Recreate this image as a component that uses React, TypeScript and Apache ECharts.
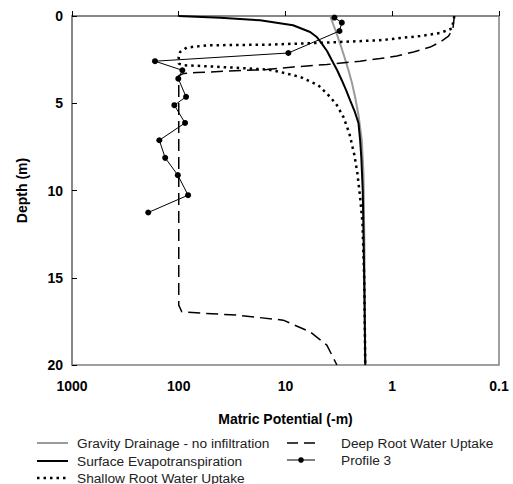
import React, { useEffect, useRef } from "react";
import * as echarts from "echarts";

// Matric potential (-m) and depth (m)
const gravityPotential = [3.82, 3.43, 3.08, 2.82, 2.57, 2.38, 2.23, 2.07, 1.93, 1.86, 1.82, 1.79];
const gravityDepth = [0, 0.76, 1.58, 2.31, 3.11, 3.85, 4.64, 5.69, 7.12, 9.0, 13.4, 20];

const surfacePotential = [101, 41.0, 17.3, 8.5, 5.88, 5.06, 4.57, 4.07, 3.68, 3.28, 2.97, 2.7, 2.48, 2.25, 2.07, 2.0, 1.95, 1.89, 1.86, 1.82, 1.79];
const surfaceDepth = [0, 0.1, 0.25, 0.53, 0.92, 1.22, 1.58, 2.02, 2.54, 3.11, 3.68, 4.26, 4.83, 5.46, 6.15, 7.12, 8.08, 9.98, 12.27, 16.3, 20];

const shallowPotential = [0.262, 0.276, 0.356, 0.548, 0.843, 1.3, 4.1, 13.9, 54.7, 84.1, 97.2, 100, 100, 90.5, 54.7, 26.6, 14.5, 11.2, 7.3, 4.92, 3.82, 3.3, 2.87, 2.52, 2.26, 2.12, 2.0, 1.9, 1.83, 1.79];
const shallowDepth = [0, 0.72, 0.97, 1.15, 1.26, 1.39, 1.52, 1.64, 1.68, 1.81, 2.06, 2.35, 2.73, 2.82, 2.88, 2.98, 3.07, 3.21, 3.49, 3.97, 4.64, 5.11, 5.78, 6.74, 7.98, 9.03, 10.37, 11.89, 15.1, 20];

const deepPotential = [0.262, 0.27, 0.297, 0.356, 0.441, 0.633, 0.905, 1.3, 2.0, 4.1, 8.4, 15.0, 38.2, 67.8, 90.5, 100, 100, 93.7, 58.8, 28.6, 10.5, 5.88, 4.1, 3.3];
const deepDepth = [0, 0.72, 1.16, 1.49, 1.78, 2.06, 2.29, 2.44, 2.59, 2.78, 2.92, 3.07, 3.17, 3.24, 3.3, 3.42, 16.57, 16.95, 17.04, 17.14, 17.43, 18.1, 18.86, 20];

const profilePotential = [3.48, 2.97, 3.12, 9.4, 167, 92.5, 101, 85.4, 110, 87.3, 152, 134, 102, 81.8, 193];
const profileDepth = [0.09, 0.38, 0.86, 2.12, 2.59, 3.11, 3.59, 4.63, 5.11, 6.13, 7.12, 8.13, 9.12, 10.27, 11.26];

const xTickValues = [1000, 100, 10, 1, 0.1];
const xTickLabels = ["1000", "100", "10", "1", "0.1"];

const seriesNames = [
  "Gravity Drainage - no infiltration",
  "Surface Evapotranspiration",
  "Shallow Root Water Uptake",
  "Deep Root Water Uptake",
  "Profile 3",
];

const zip = (xs: number[], ys: number[]) => xs.map((x, i) => [x, ys[i]]);

const FONT = "Arial, 'Liberation Sans', sans-serif";
const GRAY = "#9a9a9a";
const DOTTED = [2.5, 4];
const DASHED = [12, 6];

export default function App() {
  const ref = useRef<HTMLDivElement>(null);
  useEffect(() => {
    if (!ref.current) return;
    const chart = echarts.init(ref.current, null, { renderer: "svg" });
    const labelFor = (v: number) => {
      for (let i = 0; i < xTickValues.length; i++) {
        if (Math.abs(Math.log10(v) - Math.log10(xTickValues[i])) < 1e-6) return xTickLabels[i];
      }
      return "";
    };
    const legendText = (text: string, x: number, y: number) => ({
      type: "text",
      x,
      y,
      silent: true,
      style: { text, fontFamily: FONT, fontSize: 13.7, fill: "#222", verticalAlign: "middle", align: "left" },
    });
    const legendLine = (x1: number, x2: number, y: number, stroke: string, lineWidth: number, lineDash?: number[]) => ({
      type: "line",
      silent: true,
      shape: { x1, y1: y, x2, y2: y },
      style: { stroke, lineWidth, lineDash },
    });
    chart.setOption({
      animation: false,
      backgroundColor: "#ffffff",
      grid: {
        left: 72,
        top: 16,
        right: 14,
        bottom: 119,
        show: true,
        borderColor: "#808080",
        borderWidth: 1.5,
        containLabel: false,
      },
      xAxis: {
        type: "log",
        logBase: 10,
        min: 0.1,
        max: 1000,
        inverse: true,
        name: "Matric Potential (-m)",
        nameLocation: "middle",
        nameGap: 47,
        nameTextStyle: { fontFamily: FONT, fontWeight: "bold", fontSize: 14, color: "#000" },
        axisLine: { show: true, lineStyle: { color: "#808080", width: 1.5 } },
        axisTick: { show: true, inside: true, length: 5, lineStyle: { color: "#000", width: 1 } },
        axisLabel: {
          fontFamily: FONT,
          fontWeight: "bold",
          fontSize: 14,
          color: "#000",
          margin: 14,
          formatter: (v: number) => labelFor(v),
        },
        splitLine: { show: false },
        minorTick: { show: false },
      },
      yAxis: {
        type: "value",
        min: 0,
        max: 20,
        interval: 5,
        inverse: true,
        name: "Depth (m)",
        nameLocation: "middle",
        nameGap: 43,
        nameRotate: 90,
        nameTextStyle: { fontFamily: FONT, fontWeight: "bold", fontSize: 14, color: "#000" },
        axisLine: { show: true, lineStyle: { color: "#808080", width: 1.5 } },
        axisTick: { show: true, inside: true, length: 5, lineStyle: { color: "#000", width: 1 } },
        axisLabel: { fontFamily: FONT, fontWeight: "bold", fontSize: 14, color: "#000", margin: 9 },
        splitLine: { show: false },
      },
      graphic: [
        legendLine(37, 68, 443, GRAY, 2),
        legendText(seriesNames[0], 77, 443),
        legendLine(37, 68, 461, "#000", 2),
        legendText(seriesNames[1], 77, 461),
        legendLine(37, 68, 478, "#000", 2.5, DOTTED),
        legendText(seriesNames[2], 77, 478),
        legendLine(287, 315, 443, "#000", 1.5, [11, 6]),
        legendText(seriesNames[3], 341, 443),
        legendLine(287, 315, 460, "#000", 1),
        { type: "circle", silent: true, shape: { cx: 301, cy: 460, r: 2.8 }, style: { fill: "#000" } },
        legendText(seriesNames[4], 341, 460),
      ],
      series: [
        {
          name: seriesNames[0],
          type: "line",
          data: zip(gravityPotential, gravityDepth),
          symbol: "none",
          lineStyle: { color: GRAY, width: 2 },
          itemStyle: { color: GRAY },
        },
        {
          name: seriesNames[1],
          type: "line",
          data: zip(surfacePotential, surfaceDepth),
          symbol: "none",
          lineStyle: { color: "#000", width: 2 },
          itemStyle: { color: "#000" },
        },
        {
          name: seriesNames[2],
          type: "line",
          data: zip(shallowPotential, shallowDepth),
          symbol: "none",
          lineStyle: { color: "#000", width: 2.5, type: DOTTED },
          itemStyle: { color: "#000" },
        },
        {
          name: seriesNames[3],
          type: "line",
          data: zip(deepPotential, deepDepth),
          symbol: "none",
          lineStyle: { color: "#000", width: 1.5, type: DASHED },
          itemStyle: { color: "#000" },
        },
        {
          name: seriesNames[4],
          type: "line",
          data: zip(profilePotential, profileDepth),
          symbol: "circle",
          symbolSize: 6,
          lineStyle: { color: "#000", width: 1 },
          itemStyle: { color: "#000" },
        },
      ],
    });
    return () => chart.dispose();
  }, []);
  return (
    <div
      ref={ref}
      style={{ position: "absolute", left: 0, top: 0, width: 513, height: 484, background: "#fff" }}
    />
  );
}
